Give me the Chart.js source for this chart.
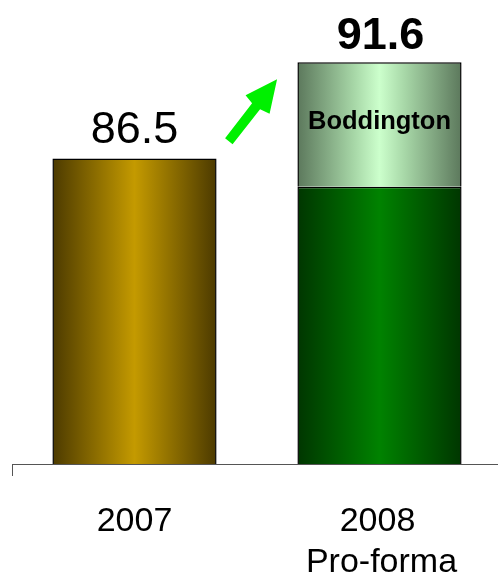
<!DOCTYPE html>
<html>
<head>
<meta charset="utf-8">
<script src="https://cdn.jsdelivr.net/npm/chart.js@4/dist/chart.umd.min.js"></script>
<style>
html,body{margin:0;padding:0;background:#fff;overflow:hidden;}
#wrap{width:502px;height:576px;}
</style>
</head>
<body>
<div id="wrap"><canvas id="c" width="502" height="576" style="width:502px;height:576px"></canvas></div>
<script>
const categories = ["2007", ["2008", "Pro-forma"]];
const baseValues = [86.5, 85.0];
const boddingtonValues = [null, 6.6];
const totalLabels = ["86.5", "91.6"];
const segmentLabel = "Boddington";
const axisMin = 70.3;
const axisMax = 94.9;
const BAR_PCT = 0.67;

const FONT = "'Liberation Sans', Arial, sans-serif";

const barStyles = [
  [["#4c3a00", "#c49a00"], ["#003600", "#008200"]],
  [null, ["#5c785c", "#ccffcc"]]
];

function barFill(c) {
  const chart = c.chart;
  const s = barStyles[c.datasetIndex][c.dataIndex];
  if (!s || !chart.chartArea || !chart.scales.x) return s ? s[1] : "#888";
  const xs = chart.scales.x;
  const cx = xs.getPixelForValue(c.dataIndex);
  const half = xs.width / categories.length * BAR_PCT / 2;
  const g = chart.ctx.createLinearGradient(cx - half, 0, cx + half, 0);
  g.addColorStop(0, s[0]);
  if (c.datasetIndex === 1) {
    g.addColorStop(0.35, "#a8d8a8");
    g.addColorStop(0.5, s[1]);
    g.addColorStop(0.65, "#a8d8a8");
  } else {
    g.addColorStop(0.5, s[1]);
  }
  g.addColorStop(1, s[0]);
  return g;
}

const labelPlugin = {
  id: 'labels',
  afterDatasetsDraw(chart) {
    const ctx = chart.ctx;
    const ca = chart.chartArea;
    const y = chart.scales.y;
    const x = chart.scales.x;
    ctx.save();
    ctx.strokeStyle = "#555";
    ctx.lineWidth = 1;
    ctx.beginPath();
    ctx.moveTo(ca.left, ca.bottom + 0.5);
    ctx.lineTo(ca.right, ca.bottom + 0.5);
    ctx.moveTo(ca.left + 0.5, ca.bottom);
    ctx.lineTo(ca.left + 0.5, ca.bottom + 12);
    ctx.stroke();

    ctx.fillStyle = "#000";
    ctx.textAlign = "center";
    ctx.textBaseline = "alphabetic";
    const meta0 = chart.getDatasetMeta(0).data;
    const meta1 = chart.getDatasetMeta(1).data;
    ctx.font = "45px " + FONT;
    ctx.fillText(totalLabels[0], meta0[0].x, y.getPixelForValue(baseValues[0]) - 15);
    ctx.font = "bold 45px " + FONT;
    const top2 = baseValues[1] + boddingtonValues[1];
    ctx.fillText(totalLabels[1], meta1[1].x + 1, y.getPixelForValue(top2) - 13);
    ctx.font = "bold 25.5px " + FONT;
    const midSeg = (y.getPixelForValue(top2) + y.getPixelForValue(baseValues[1])) / 2;
    ctx.fillText(segmentLabel, meta1[1].x, midSeg + 5);
    ctx.font = "34px " + FONT;
    categories.forEach((c, i) => {
      const lines = Array.isArray(c) ? c : [c];
      const cx = x.getPixelForValue(i) - (i === 1 ? 2 : 0);
      lines.forEach((ln, k) => {
        ctx.fillText(ln, cx + (k === 1 ? 4 : 0), ca.bottom + 67 + k * 41);
      });
    });
    // arrow annotation
    const ax = meta0[0].x + meta0[0].width / 2;
    const ay = y.getPixelForValue(baseValues[0]);
    const pts = [[225,138],[252,103],[245.5,95],[277,79],[269.5,113.5],[260,109],[232.5,144]];
    const dx = ax - 216.5, dy = ay - 158.3;
    ctx.fillStyle = "#00f000";
    ctx.beginPath();
    pts.forEach((p, k) => {
      const px = p[0] + dx, py = p[1] + dy;
      if (k === 0) ctx.moveTo(px, py); else ctx.lineTo(px, py);
    });
    ctx.closePath();
    ctx.fill();
    ctx.restore();
  }
};

new Chart(document.getElementById('c'), {
  type: 'bar',
  data: {
    labels: categories,
    datasets: [
      { data: baseValues, borderColor: "#000", borderWidth: 1.5, borderSkipped: 'bottom', backgroundColor: barFill },
      { data: boddingtonValues, borderColor: "#000", borderWidth: 1.5, borderSkipped: 'bottom', backgroundColor: barFill }
    ]
  },
  options: {
    responsive: false,
    animation: false,
    events: [],
    layout: { padding: { left: 12, right: 0, top: 0, bottom: 112 } },
    plugins: { legend: { display: false }, tooltip: { enabled: false } },
    datasets: { bar: { barPercentage: BAR_PCT, categoryPercentage: 1 } },
    scales: {
      x: { stacked: true, display: false },
      y: { stacked: true, display: false, min: axisMin, max: axisMax }
    }
  },
  plugins: [labelPlugin]
});
</script>
</body>
</html>
